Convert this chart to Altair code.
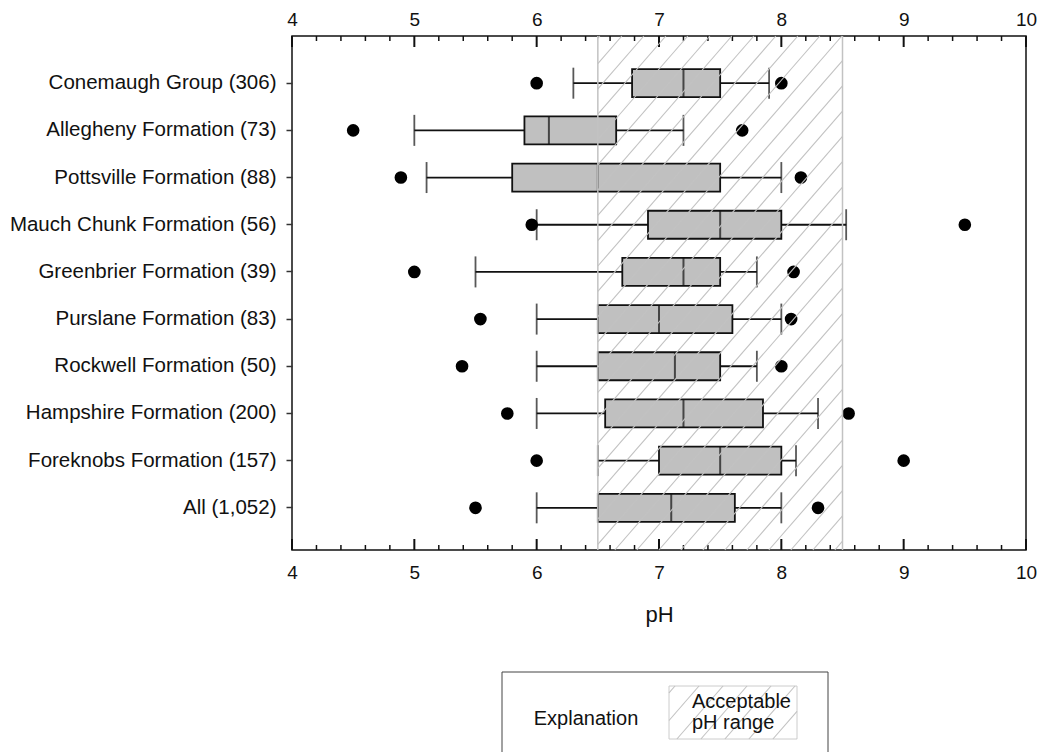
import altair as alt
import pandas as pd

# --- data -------------------------------------------------------------
categories = [
    "Conemaugh Group (306)",
    "Allegheny Formation (73)",
    "Pottsville Formation (88)",
    "Mauch Chunk Formation (56)",
    "Greenbrier Formation (39)",
    "Purslane Formation (83)",
    "Rockwell Formation (50)",
    "Hampshire Formation (200)",
    "Foreknobs Formation (157)",
    "All (1,052)",
]
whisker_low = [6.3, 5.0, 5.1, 6.0, 5.5, 6.0, 6.0, 6.0, 6.5, 6.0]
q1 = [6.78, 5.9, 5.8, 6.91, 6.7, 6.5, 6.5, 6.56, 7.0, 6.5]
median = [7.2, 6.1, 6.5, 7.5, 7.2, 7.0, 7.13, 7.2, 7.5, 7.1]
q3 = [7.5, 6.65, 7.5, 8.0, 7.5, 7.6, 7.5, 7.85, 8.0, 7.62]
whisker_high = [7.9, 7.2, 8.0, 8.53, 7.8, 8.0, 7.8, 8.3, 8.12, 8.0]
outlier_low = [6.0, 4.5, 4.89, 5.96, 5.0, 5.54, 5.39, 5.76, 6.0, 5.5]
outlier_high = [8.0, 7.68, 8.16, 9.5, 8.1, 8.08, 8.0, 8.55, 9.0, 8.3]

acceptable_range = [6.5, 8.5]
major_ticks = [4, 5, 6, 7, 8, 9, 10]
minor_ticks = [4.2, 4.4, 4.6, 4.8, 5.2, 5.4, 5.6, 5.8, 6.2, 6.4, 6.6, 6.8,
               7.2, 7.4, 7.6, 7.8, 8.2, 8.4, 8.6, 8.8, 9.2, 9.4, 9.6, 9.8]

# --- layout -----------------------------------------------------------
X_MIN, X_MAX = 4, 10
PLOT_W, PLOT_H = 734, 514
PPU = PLOT_W / (X_MAX - X_MIN)          # pixels per pH unit
FONT = "Liberation Sans"
INK = "#111111"
HATCH = "#c2c2c2"

stats = pd.DataFrame({
    "group": categories, "lo": whisker_low, "q1": q1, "med": median,
    "q3": q3, "hi": whisker_high,
})
outliers = pd.DataFrame({
    "group": categories * 2,
    "value": outlier_low + outlier_high,
})

x_scale = alt.Scale(domain=[X_MIN, X_MAX], nice=False, zero=False)
y_scale = alt.Scale(domain=categories, range=[0, 519],
                    paddingInner=0, paddingOuter=0.5)
y_enc = alt.Y("group:N", scale=y_scale, sort=categories, axis=None)


def hatch_lines(x0, x1, y0, y1, spacing, slope, phase=0.0):
    """Diagonal segments (lower-left to upper-right) clipped to a box, in px."""
    rows = []
    rise = (y1 - y0) / slope
    c = x0 - rise + phase
    while c < x1:
        xs, xe = max(c, x0), min(c + rise, x1)
        if xe > xs:
            rows.append({
                "x": xs, "x2": xe,
                "y": y1 - (xs - c) * slope, "y2": y1 - (xe - c) * slope,
            })
        c += spacing
    return pd.DataFrame(rows)


# --- box plot ---------------------------------------------------------
base = alt.Chart(stats)

whisker_left = base.mark_rule(color=INK, strokeWidth=1.8).encode(
    x=alt.X("lo:Q", scale=x_scale, axis=None), x2="q1:Q", y=y_enc)
whisker_right = base.mark_rule(color=INK, strokeWidth=1.8).encode(
    x=alt.X("q3:Q", scale=x_scale, axis=None), x2="hi:Q", y=y_enc)
cap_low = base.mark_tick(color=INK, size=31, thickness=1.8).encode(
    x=alt.X("lo:Q", scale=x_scale, axis=None), y=y_enc)
cap_high = base.mark_tick(color=INK, size=31, thickness=1.8).encode(
    x=alt.X("hi:Q", scale=x_scale, axis=None), y=y_enc)

boxes = base.mark_bar(size=28, fill="#c0c0c0", stroke=INK, strokeWidth=1.8).encode(
    x=alt.X("q1:Q", scale=x_scale,
            axis=alt.Axis(orient="bottom", values=major_ticks, format="d",
                          title="pH", titleFont=FONT, titleFontSize=22,
                          titleFontWeight="normal", titleColor=INK,
                          titlePadding=22, labelFont=FONT, labelFontSize=19,
                          labelColor=INK, labelPadding=13, ticks=False,
                          domain=False, grid=False, labelFlush=False)),
    x2="q3:Q",
    y=alt.Y("group:N", scale=y_scale, sort=categories,
            axis=alt.Axis(title=None, labelFont=FONT, labelFontSize=20.5,
                          labelColor=INK, labelLimit=400, labelPadding=10,
                          tickSize=6, tickWidth=1.5, tickColor="#333333",
                          domain=False, grid=False)),
)
medians = base.mark_tick(color=INK, size=28, thickness=2).encode(
    x=alt.X("med:Q", scale=x_scale, axis=None), y=y_enc)

dots = alt.Chart(outliers).mark_circle(size=160, color="#000000", opacity=1).encode(
    x=alt.X("value:Q", scale=x_scale, axis=None), y=y_enc)

# --- inward tick marks on top and bottom edges ------------------------
major_df = pd.DataFrame({"v": major_ticks})
minor_df = pd.DataFrame({"v": minor_ticks})

top_major = alt.Chart(major_df).mark_rule(color=INK, strokeWidth=2).encode(
    x=alt.X("v:Q", scale=x_scale,
            axis=alt.Axis(orient="top", values=major_ticks, format="d",
                          title=None, labelFont=FONT, labelFontSize=19,
                          labelColor=INK, labelPadding=7, ticks=False,
                          domain=False, grid=False, labelFlush=False)),
    y=alt.value(0), y2=alt.value(11))
top_minor = alt.Chart(minor_df).mark_rule(color=INK, strokeWidth=1.5).encode(
    x=alt.X("v:Q", scale=x_scale, axis=None), y=alt.value(0), y2=alt.value(5))
bottom_major = alt.Chart(major_df).mark_rule(color=INK, strokeWidth=2).encode(
    x=alt.X("v:Q", scale=x_scale, axis=None),
    y=alt.value(PLOT_H), y2=alt.value(PLOT_H - 11))
bottom_minor = alt.Chart(minor_df).mark_rule(color=INK, strokeWidth=1.5).encode(
    x=alt.X("v:Q", scale=x_scale, axis=None),
    y=alt.value(PLOT_H), y2=alt.value(PLOT_H - 5))

main = alt.layer(
    whisker_left, whisker_right, cap_low, cap_high, boxes, medians, dots,
    top_major, top_minor, bottom_major, bottom_minor,
).resolve_axis(x="independent", y="independent")

# --- hatched acceptable-range band ------------------------------------
band_lo_px = (acceptable_range[0] - X_MIN) * PPU
band_hi_px = (acceptable_range[1] - X_MIN) * PPU
band_hatch = hatch_lines(band_lo_px, band_hi_px, 0, PLOT_H, 22, 1.15, phase=2)
band_hatch["x"] = X_MIN + band_hatch["x"] / PPU
band_hatch["x2"] = X_MIN + band_hatch["x2"] / PPU

hatch_layer = alt.Chart(band_hatch).mark_rule(color=HATCH, strokeWidth=1.1).encode(
    x=alt.X("x:Q", scale=x_scale, axis=None), x2="x2:Q",
    y=alt.Y("y:Q", scale=None, axis=None), y2="y2:Q")
band_edges = alt.Chart(pd.DataFrame({"v": acceptable_range})).mark_rule(
    color=HATCH, strokeWidth=1.5).encode(
    x=alt.X("v:Q", scale=x_scale, axis=None),
    y=alt.value(0), y2=alt.value(PLOT_H))

plot = alt.layer(main, hatch_layer, band_edges).resolve_scale(y="independent")

# --- explanation box --------------------------------------------------
anchor = pd.DataFrame({"k": [0]})
legend_frame = alt.Chart(anchor).mark_rect(
    fill="white", stroke="#444444", strokeWidth=1).encode(
    x=alt.value(210), x2=alt.value(536), y=alt.value(636), y2=alt.value(730))
swatch = alt.Chart(anchor).mark_rect(
    fill="white", stroke="#cccccc", strokeWidth=1).encode(
    x=alt.value(377), x2=alt.value(505), y=alt.value(650), y2=alt.value(703))
swatch_hatch = alt.Chart(hatch_lines(377, 505, 650, 703, 24, 1.15, phase=6)).mark_rule(
    color=HATCH, strokeWidth=1.1).encode(
    x=alt.X("x:Q", scale=None, axis=None), x2="x2:Q",
    y=alt.Y("y:Q", scale=None, axis=None), y2="y2:Q")
text_style = dict(font=FONT, fontSize=20, color=INK, baseline="alphabetic")
explanation = alt.Chart(anchor).mark_text(align="center", **text_style).encode(
    x=alt.value(294), y=alt.value(689), text=alt.value("Explanation"))
range_line1 = alt.Chart(anchor).mark_text(align="left", **text_style).encode(
    x=alt.value(400), y=alt.value(672), text=alt.value("Acceptable"))
range_line2 = alt.Chart(anchor).mark_text(align="left", **text_style).encode(
    x=alt.value(400), y=alt.value(693), text=alt.value("pH range"))

legend = alt.layer(legend_frame, swatch, swatch_hatch, explanation,
                   range_line1, range_line2)

chart = alt.layer(plot, legend).resolve_scale(
    x="independent", y="independent"
).properties(
    width=PLOT_W, height=PLOT_H,
    padding={"left": 292, "top": 36, "right": 16, "bottom": 202},
    autosize=alt.AutoSizeParams(type="none"),
    background="white",
).configure_view(stroke="#111111", strokeWidth=1.5)

chart.save("out.html", embed_options={"renderer": "svg", "actions": False})
